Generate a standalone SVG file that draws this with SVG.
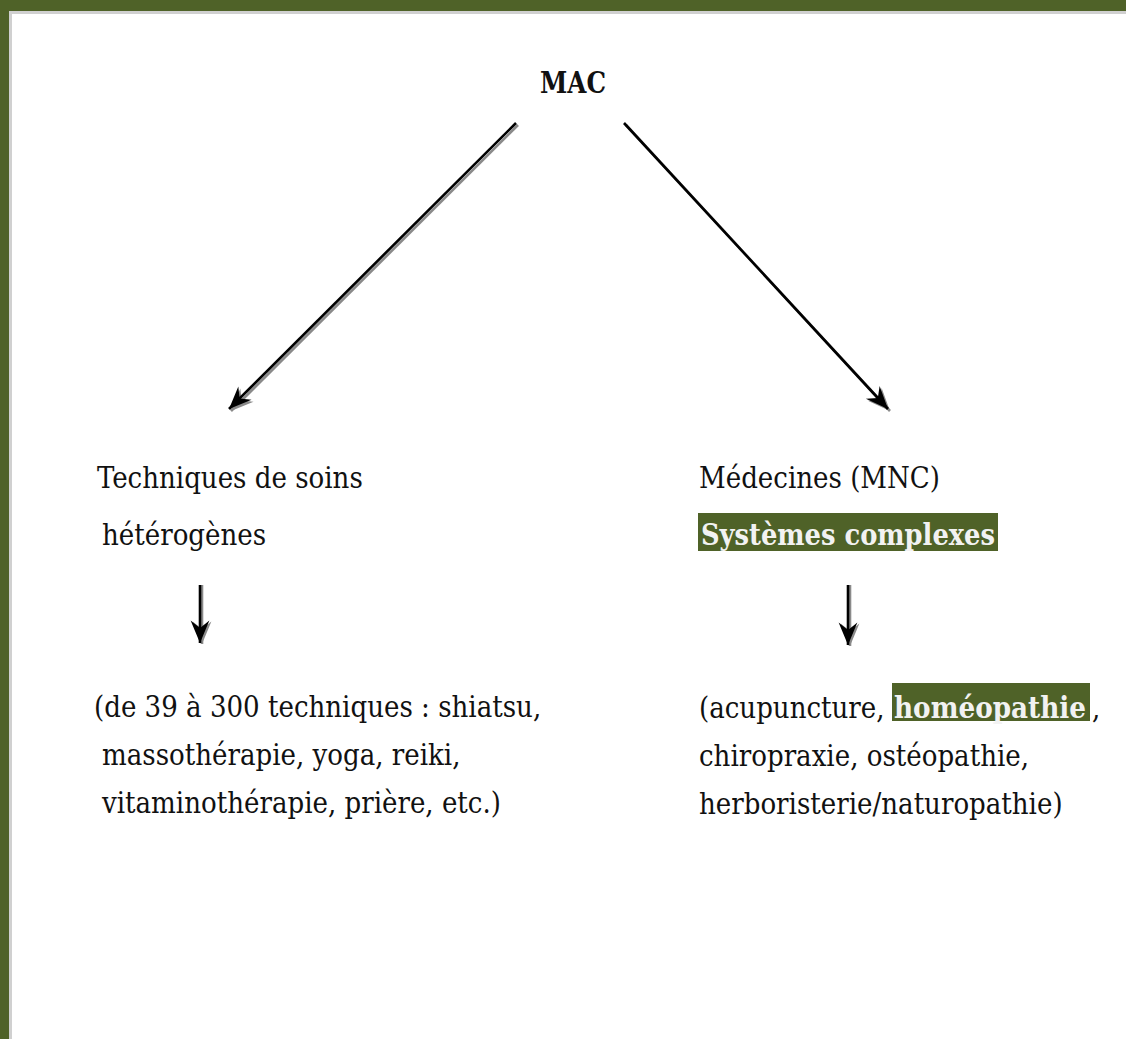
<svg xmlns="http://www.w3.org/2000/svg" width="1126" height="1039" viewBox="0 0 1126 1039">
<style>
.t{font-family:"DejaVu Serif Condensed","DejaVu Serif","Liberation Serif",serif;font-size:29px;fill:#111}
.b{font-weight:bold}
.w{fill:#f2f2f2}
.hl{fill:#4F6228}
.ln{stroke:#000;stroke-width:2.6;fill:none}
.sh{stroke:#8a8a8a;stroke-width:2.6;fill:none}
</style>
<defs>
<marker id="ah" markerUnits="userSpaceOnUse" markerWidth="30" markerHeight="30" refX="0" refY="0" viewBox="-20 -10 24 20" orient="auto" overflow="visible">
<path d="M0,0 L-18,-7.5 L-12,0 L-18,7.5 Z" fill="#000"/>
</marker>
<marker id="ahs" markerUnits="userSpaceOnUse" markerWidth="30" markerHeight="30" refX="0" refY="0" viewBox="-20 -10 24 20" orient="auto" overflow="visible">
<path d="M0,0 L-18,-7.5 L-12,0 L-18,7.5 Z" fill="#8a8a8a"/>
</marker>
</defs>
<rect width="1126" height="1039" fill="#fff"/>
<g id="frame">
<rect x="0" y="11" width="1126" height="3" fill="#d0d0d0"/>
<rect x="9" y="0" width="3" height="1039" fill="#d0d0d0"/>
<rect x="0" y="0" width="1126" height="11" fill="#4F6228"/>
<rect x="0" y="0" width="9" height="1039" fill="#4F6228"/>
</g>
<g id="connectors">
<line class="sh" x1="518" y1="125" x2="231" y2="411" marker-end="url(#ahs)"/>
<line class="ln" x1="516" y1="123" x2="229" y2="409" marker-end="url(#ah)"/>
<line class="sh" x1="626" y1="125" x2="890" y2="411" marker-end="url(#ahs)"/>
<line class="ln" x1="624" y1="123" x2="888" y2="409" marker-end="url(#ah)"/>
<line class="sh" x1="202" y1="585" x2="202" y2="644" marker-end="url(#ahs)"/>
<line class="ln" x1="200" y1="585" x2="200" y2="643" marker-end="url(#ah)"/>
<line class="sh" x1="850" y1="585" x2="850" y2="646" marker-end="url(#ahs)"/>
<line class="ln" x1="848" y1="585" x2="848" y2="645" marker-end="url(#ah)"/>
</g>
<g id="mac">
<text class="t b" x="540" y="93" textLength="66" lengthAdjust="spacingAndGlyphs">MAC</text>
</g>
<g id="techniques">
<text class="t" x="97" y="488">Techniques de soins</text>
<text class="t" x="102" y="545">hétérogènes</text>
</g>
<g id="medecines">
<text class="t" x="699" y="488">Médecines (MNC)</text>
<rect class="hl" x="698" y="513" width="300" height="38"/>
<text class="t b w" x="701" y="545" textLength="294" lengthAdjust="spacingAndGlyphs">Systèmes complexes</text>
</g>
<g id="liste-techniques">
<text class="t" x="94" y="717">(de 39 à 300 techniques : shiatsu,</text>
<text class="t" x="102" y="765">massothérapie, yoga, reiki,</text>
<text class="t" x="102" y="813">vitaminothérapie, prière, etc.)</text>
</g>
<g id="liste-medecines">
<text class="t" x="699" y="718">(acupuncture,</text>
<rect class="hl" x="892" y="683" width="198" height="38"/>
<text class="t b w" x="894" y="718" textLength="192" lengthAdjust="spacingAndGlyphs">homéopathie</text>
<text class="t" x="1092" y="718">,</text>
<text class="t" x="699" y="766">chiropraxie, ostéopathie,</text>
<text class="t" x="699" y="814">herboristerie/naturopathie)</text>
</g>
</svg>
